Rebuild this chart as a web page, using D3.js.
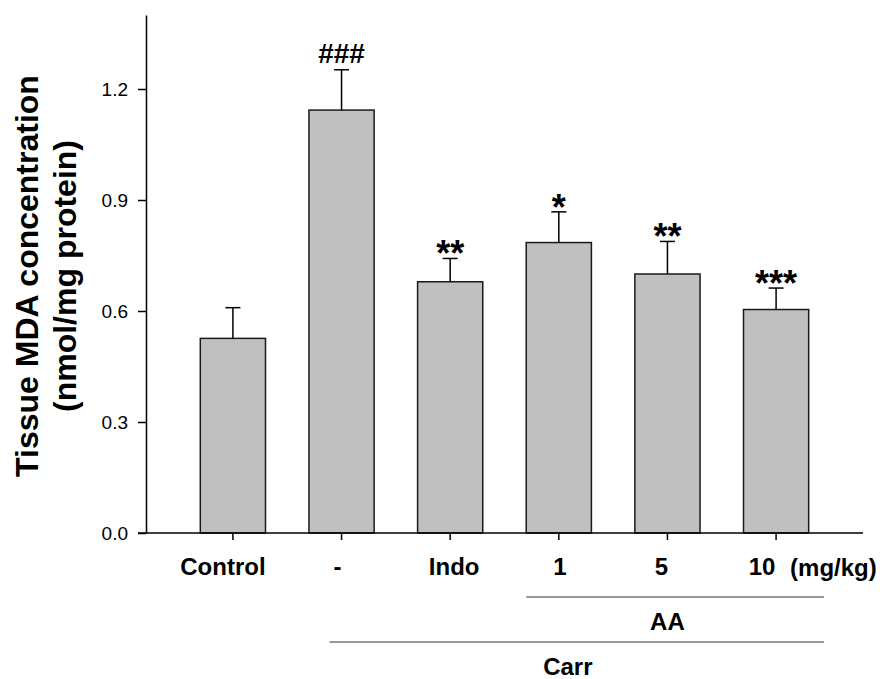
<!DOCTYPE html>
<html>
<head>
<meta charset="utf-8">
<script src="https://cdn.jsdelivr.net/npm/d3@7"></script>
<style>
  body { margin: 0; background: #fff; }
  svg { display: block; font-family: Arial, "Liberation Sans", sans-serif; }
</style>
</head>
<body>
<div id="chart"></div>
<script>
// values
var groups = ["Control", "-", "Indo", "1", "5", "10"];
var means = [0.526, 1.143, 0.679, 0.785, 0.700, 0.604];
var errors = [0.083, 0.109, 0.063, 0.083, 0.088, 0.058];
var marks = ["", "###", "**", "*", "**", "***"];
var yTicks = [0.0, 0.3, 0.6, 0.9, 1.2];

var width = 880, height = 679;
var margin = {top: 15, left: 146, right: 17, bottom: 146};
var plotW = width - margin.left - margin.right;
var plotH = height - margin.top - margin.bottom;

var svg = d3.select("#chart").append("svg")
    .attr("width", width)
    .attr("height", height);

var g = svg.append("g")
    .attr("transform", "translate(" + margin.left + "," + margin.top + ")");

var x = d3.scaleBand()
    .domain(groups)
    .range([0, plotW])
    .paddingInner(0.4)
    .paddingOuter(0.5);

var y = d3.scaleLinear()
    .domain([0, 1.4])
    .range([plotH, 0]);

var data = groups.map(function(d, i) {
    return {group: d, mean: means[i], err: errors[i], mark: marks[i]};
});

// bars
g.selectAll(".bar")
    .data(data)
    .enter().append("rect")
    .attr("class", "bar")
    .attr("x", d => x(d.group))
    .attr("y", d => y(d.mean))
    .attr("width", x.bandwidth())
    .attr("height", d => plotH - y(d.mean))
    .attr("fill", "#c0c0c0")
    .attr("stroke", "#1a1a1a")
    .attr("stroke-width", 1.5);

// error bars (upper only)
var cap = 7.5;
var eb = g.selectAll(".err")
    .data(data)
    .enter().append("g")
    .attr("class", "err")
    .attr("stroke", "#000")
    .attr("stroke-width", 1.5);

eb.append("line")
    .attr("x1", d => x(d.group) + x.bandwidth() / 2)
    .attr("x2", d => x(d.group) + x.bandwidth() / 2)
    .attr("y1", d => y(d.mean))
    .attr("y2", d => y(d.mean + d.err));

eb.append("line")
    .attr("x1", d => x(d.group) + x.bandwidth() / 2 - cap)
    .attr("x2", d => x(d.group) + x.bandwidth() / 2 + cap)
    .attr("y1", d => y(d.mean + d.err))
    .attr("y2", d => y(d.mean + d.err));

// significance marks
g.selectAll(".mark")
    .data(data.filter(d => d.mark != ""))
    .enter().append("text")
    .attr("class", "mark")
    .attr("x", d => x(d.group) + x.bandwidth() / 2)
    .attr("y", d => y(d.mean + d.err) + (d.mark.indexOf("#") >= 0 ? -7 : 8))
    .attr("text-anchor", "middle")
    .attr("font-weight", "bold")
    .attr("font-size", d => d.mark.indexOf("#") >= 0 ? 28 : 36)
    .text(d => d.mark);

// y axis
var yAxis = g.append("g")
    .call(d3.axisLeft(y).tickValues(yTicks).tickFormat(d3.format(".1f"))
        .tickSize(8).tickSizeOuter(0).tickPadding(10));
yAxis.selectAll("text").attr("font-size", 19).attr("fill", "#000")
    .style("font-family", "Arial, 'Liberation Sans', sans-serif");
yAxis.selectAll("line, path").attr("stroke", "#000").attr("stroke-width", 1.5);

// x axis
var xAxis = g.append("g")
    .attr("transform", "translate(0," + plotH + ")")
    .call(d3.axisBottom(x).tickSize(7).tickSizeOuter(0).tickPadding(18));
xAxis.selectAll("line, path").attr("stroke", "#000").attr("stroke-width", 1.5);
xAxis.select("path").attr("d", "M" + (-8) + ",0H" + plotW);
var nudge = {"Control": -10, "-": -4, "Indo": 4, "1": 1, "5": -6, "10": -14};
xAxis.selectAll("text")
    .attr("font-size", 24)
    .attr("font-weight", "bold")
    .attr("fill", "#000")
    .style("font-family", "Arial, 'Liberation Sans', sans-serif")
    .attr("dx", d => nudge[d]);

var cx = function(k) { return x(k) + x.bandwidth() / 2; };

g.append("text")
    .attr("x", cx("10") + 14)
    .attr("y", plotH + 43)
    .attr("font-size", 24)
    .attr("font-weight", "bold")
    .text("(mg/kg)");

// treatment brackets
g.append("line")
    .attr("x1", x("1")).attr("x2", cx("10") + 48)
    .attr("y1", plotH + 64).attr("y2", plotH + 64)
    .attr("stroke", "#333").attr("stroke-width", 1);
g.append("text")
    .attr("x", cx("5"))
    .attr("y", plotH + 97)
    .attr("text-anchor", "middle")
    .attr("font-size", 24)
    .attr("font-weight", "bold")
    .text("AA");

g.append("line")
    .attr("x1", cx("-") - 12).attr("x2", cx("10") + 48)
    .attr("y1", plotH + 109).attr("y2", plotH + 109)
    .attr("stroke", "#333").attr("stroke-width", 1);
g.append("text")
    .attr("x", cx("1") + 9)
    .attr("y", plotH + 142)
    .attr("text-anchor", "middle")
    .attr("font-size", 24)
    .attr("font-weight", "bold")
    .text("Carr");

// y title
var title = svg.append("text")
    .attr("transform", "translate(0,276) rotate(-90)")
    .attr("text-anchor", "middle")
    .attr("font-size", 32)
    .attr("font-weight", "bold");
title.append("tspan").attr("x", 0).attr("y", 38).text("Tissue MDA concentration");
title.append("tspan").attr("x", 0).attr("y", 76).text("(nmol/mg protein)");
</script>
</body>
</html>
